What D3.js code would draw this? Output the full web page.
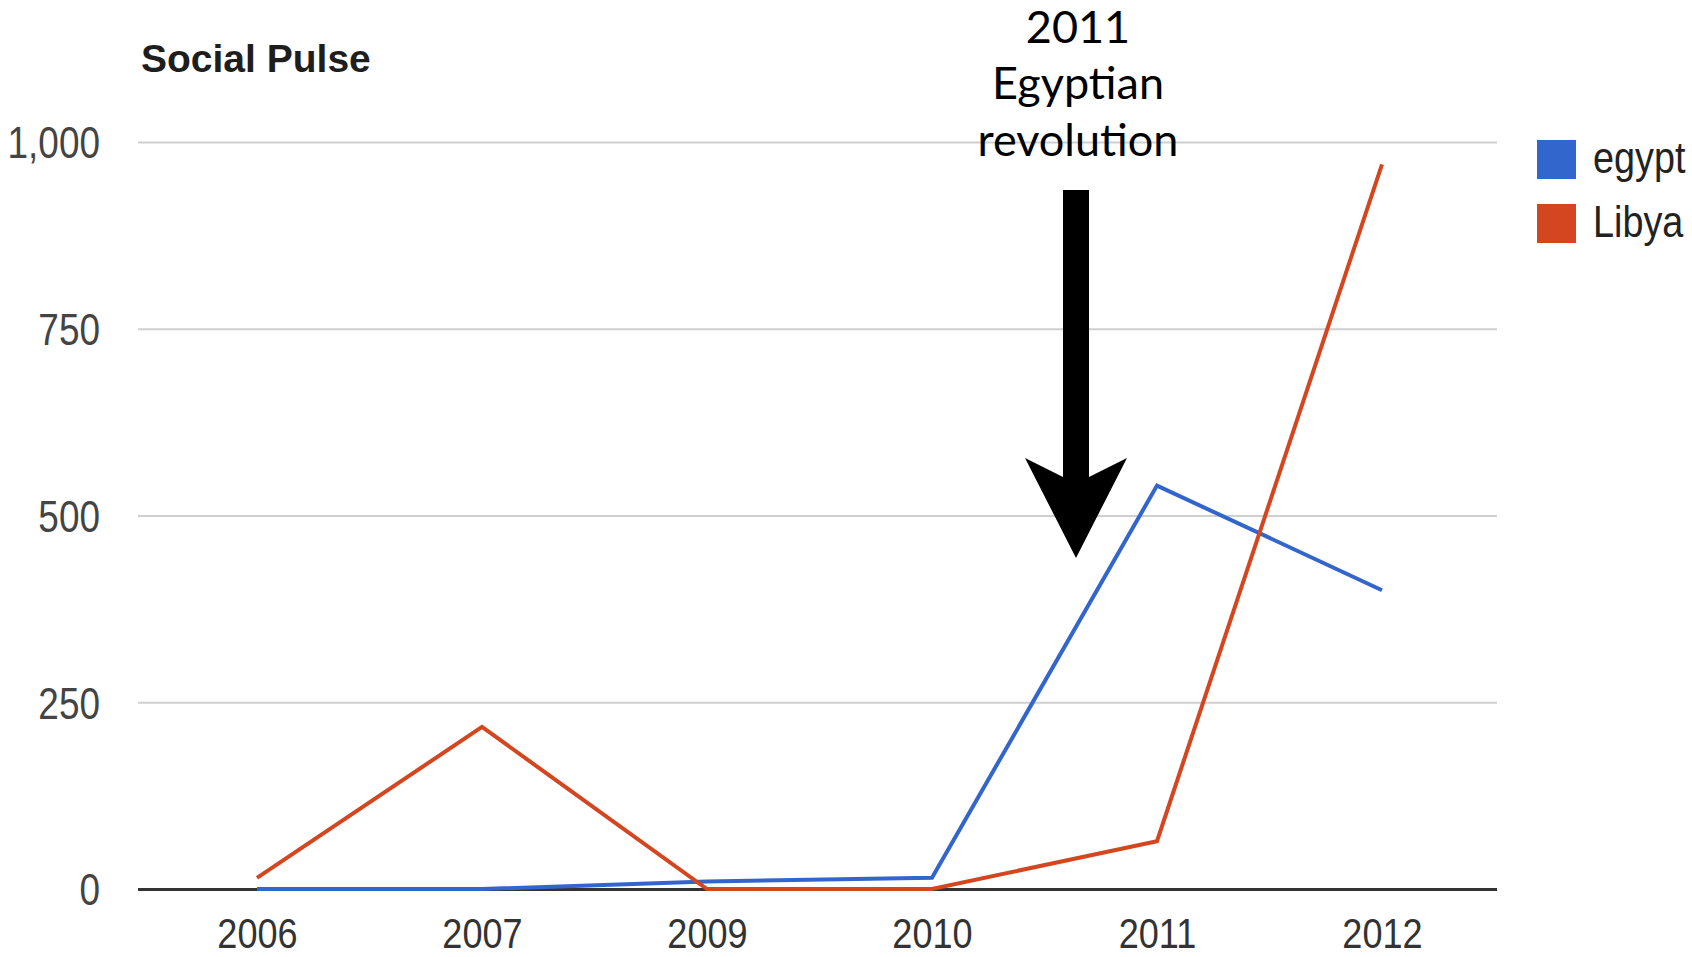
<!DOCTYPE html>
<html>
<head>
<meta charset="utf-8">
<script src="https://cdn.jsdelivr.net/npm/d3@7"></script>
<style>
  html, body { margin: 0; padding: 0; background: #fff; }
  svg { display: block; }
</style>
</head>
<body>
<div id="chart"></div>
<script>
// chart data
const years = ['2006', '2007', '2009', '2010', '2011', '2012'];
const egypt = [0, 0, 10, 15, 540, 400];
const libya = [15, 217, 0, 0, 64, 970];
const yTicks = [0, 250, 500, 750, 1000];
const seriesNames = ['egypt', 'Libya'];
const annotationLines = ['2011', 'Egyptian', 'revolution'];

const width = 1692;
const height = 957;
const colors = ['#3366cc', '#d4461f'];
const squeeze = 'scale(0.84,1)';
const font = 'Liberation Sans, Arial, sans-serif';

const svg = d3.select('#chart').append('svg')
  .attr('width', width)
  .attr('height', height);

const gridLeft = 138, gridRight = 1497;

// category centres sit half a step inside the plot area
const x = d3.scalePoint()
  .domain(years)
  .range([257, 1382]);

const y = d3.scaleLinear()
  .domain([0, 1000])
  .range([889, 142]);

// title
svg.append('text')
  .attr('x', 141)
  .attr('y', 72)
  .attr('font-family', font)
  .attr('font-weight', 'bold')
  .attr('font-size', 39)
  .attr('fill', '#1e1e1e')
  .text('Social Pulse');

// y axis + gridlines
const yAxis = svg.append('g')
  .attr('transform', `translate(${gridLeft},0)`)
  .call(
    d3.axisLeft(y)
      .tickValues(yTicks)
      .tickSize(-(gridRight - gridLeft))
      .tickFormat(d3.format(','))
  );
yAxis.select('.domain').remove();
yAxis.selectAll('line')
  .attr('stroke', d => d === 0 ? '#333' : '#cfcfcf')
  .attr('stroke-width', d => d === 0 ? 3 : 2);
yAxis.selectAll('text')
  .attr('x', 0)
  .attr('dy', '0.36em')
  .attr('transform', `translate(-38,0) ${squeeze}`)
  .attr('font-family', font)
  .attr('font-size', 44)
  .attr('fill', '#444');

// x axis
const xAxis = svg.append('g')
  .attr('transform', `translate(0,${y(0)})`)
  .call(d3.axisBottom(x).tickSize(0));
xAxis.select('.domain').remove();
xAxis.selectAll('text')
  .attr('y', 44)
  .attr('dy', '0.36em')
  .attr('transform', squeeze)
  .attr('font-family', font)
  .attr('font-size', 43)
  .attr('fill', '#333');

// lines
const line = d3.line()
  .x((d, i) => x(years[i]))
  .y(d => y(d));

[egypt, libya].forEach((data, i) => {
  svg.append('path')
    .datum(data)
    .attr('fill', 'none')
    .attr('stroke', colors[i])
    .attr('stroke-width', 4)
    .attr('stroke-linejoin', 'miter')
    .attr('d', line);
});

// legend
const legend = svg.append('g')
  .attr('transform', 'translate(1537,140)');
seriesNames.forEach((name, i) => {
  const row = legend.append('g')
    .attr('transform', `translate(0,${i * 64})`);
  row.append('rect')
    .attr('width', 39)
    .attr('height', 39)
    .attr('fill', colors[i]);
  row.append('text')
    .attr('transform', `translate(56,33) ${squeeze}`)
    .attr('font-family', font)
    .attr('font-size', 45)
    .attr('fill', '#222')
    .text(name);
});

// annotation: text + arrow, placed between 2010 and 2011
const ax = x('2010') + 0.64 * x.step();
const note = svg.append('g');
const baselines = [43, 99, 156];
annotationLines.forEach((t, i) => {
  note.append('text')
    .attr('x', ax + 2)
    .attr('y', baselines[i])
    .attr('text-anchor', 'middle')
    .attr('font-family', 'Lato, sans-serif')
    .attr('font-size', 45)
    .attr('fill', '#000')
    .text(t);
});

const shaftTop = 190, barbY = 458, neckY = 477, tipY = 558;
const half = 13, wing = 51;
note.append('path')
  .attr('fill', '#000')
  .attr('d', [
    'M', ax - half, shaftTop,
    'L', ax + half, shaftTop,
    'L', ax + half, neckY,
    'L', ax + wing, barbY,
    'L', ax, tipY,
    'L', ax - wing, barbY,
    'L', ax - half, neckY,
    'Z'
  ].join(' '));
</script>
</body>
</html>
